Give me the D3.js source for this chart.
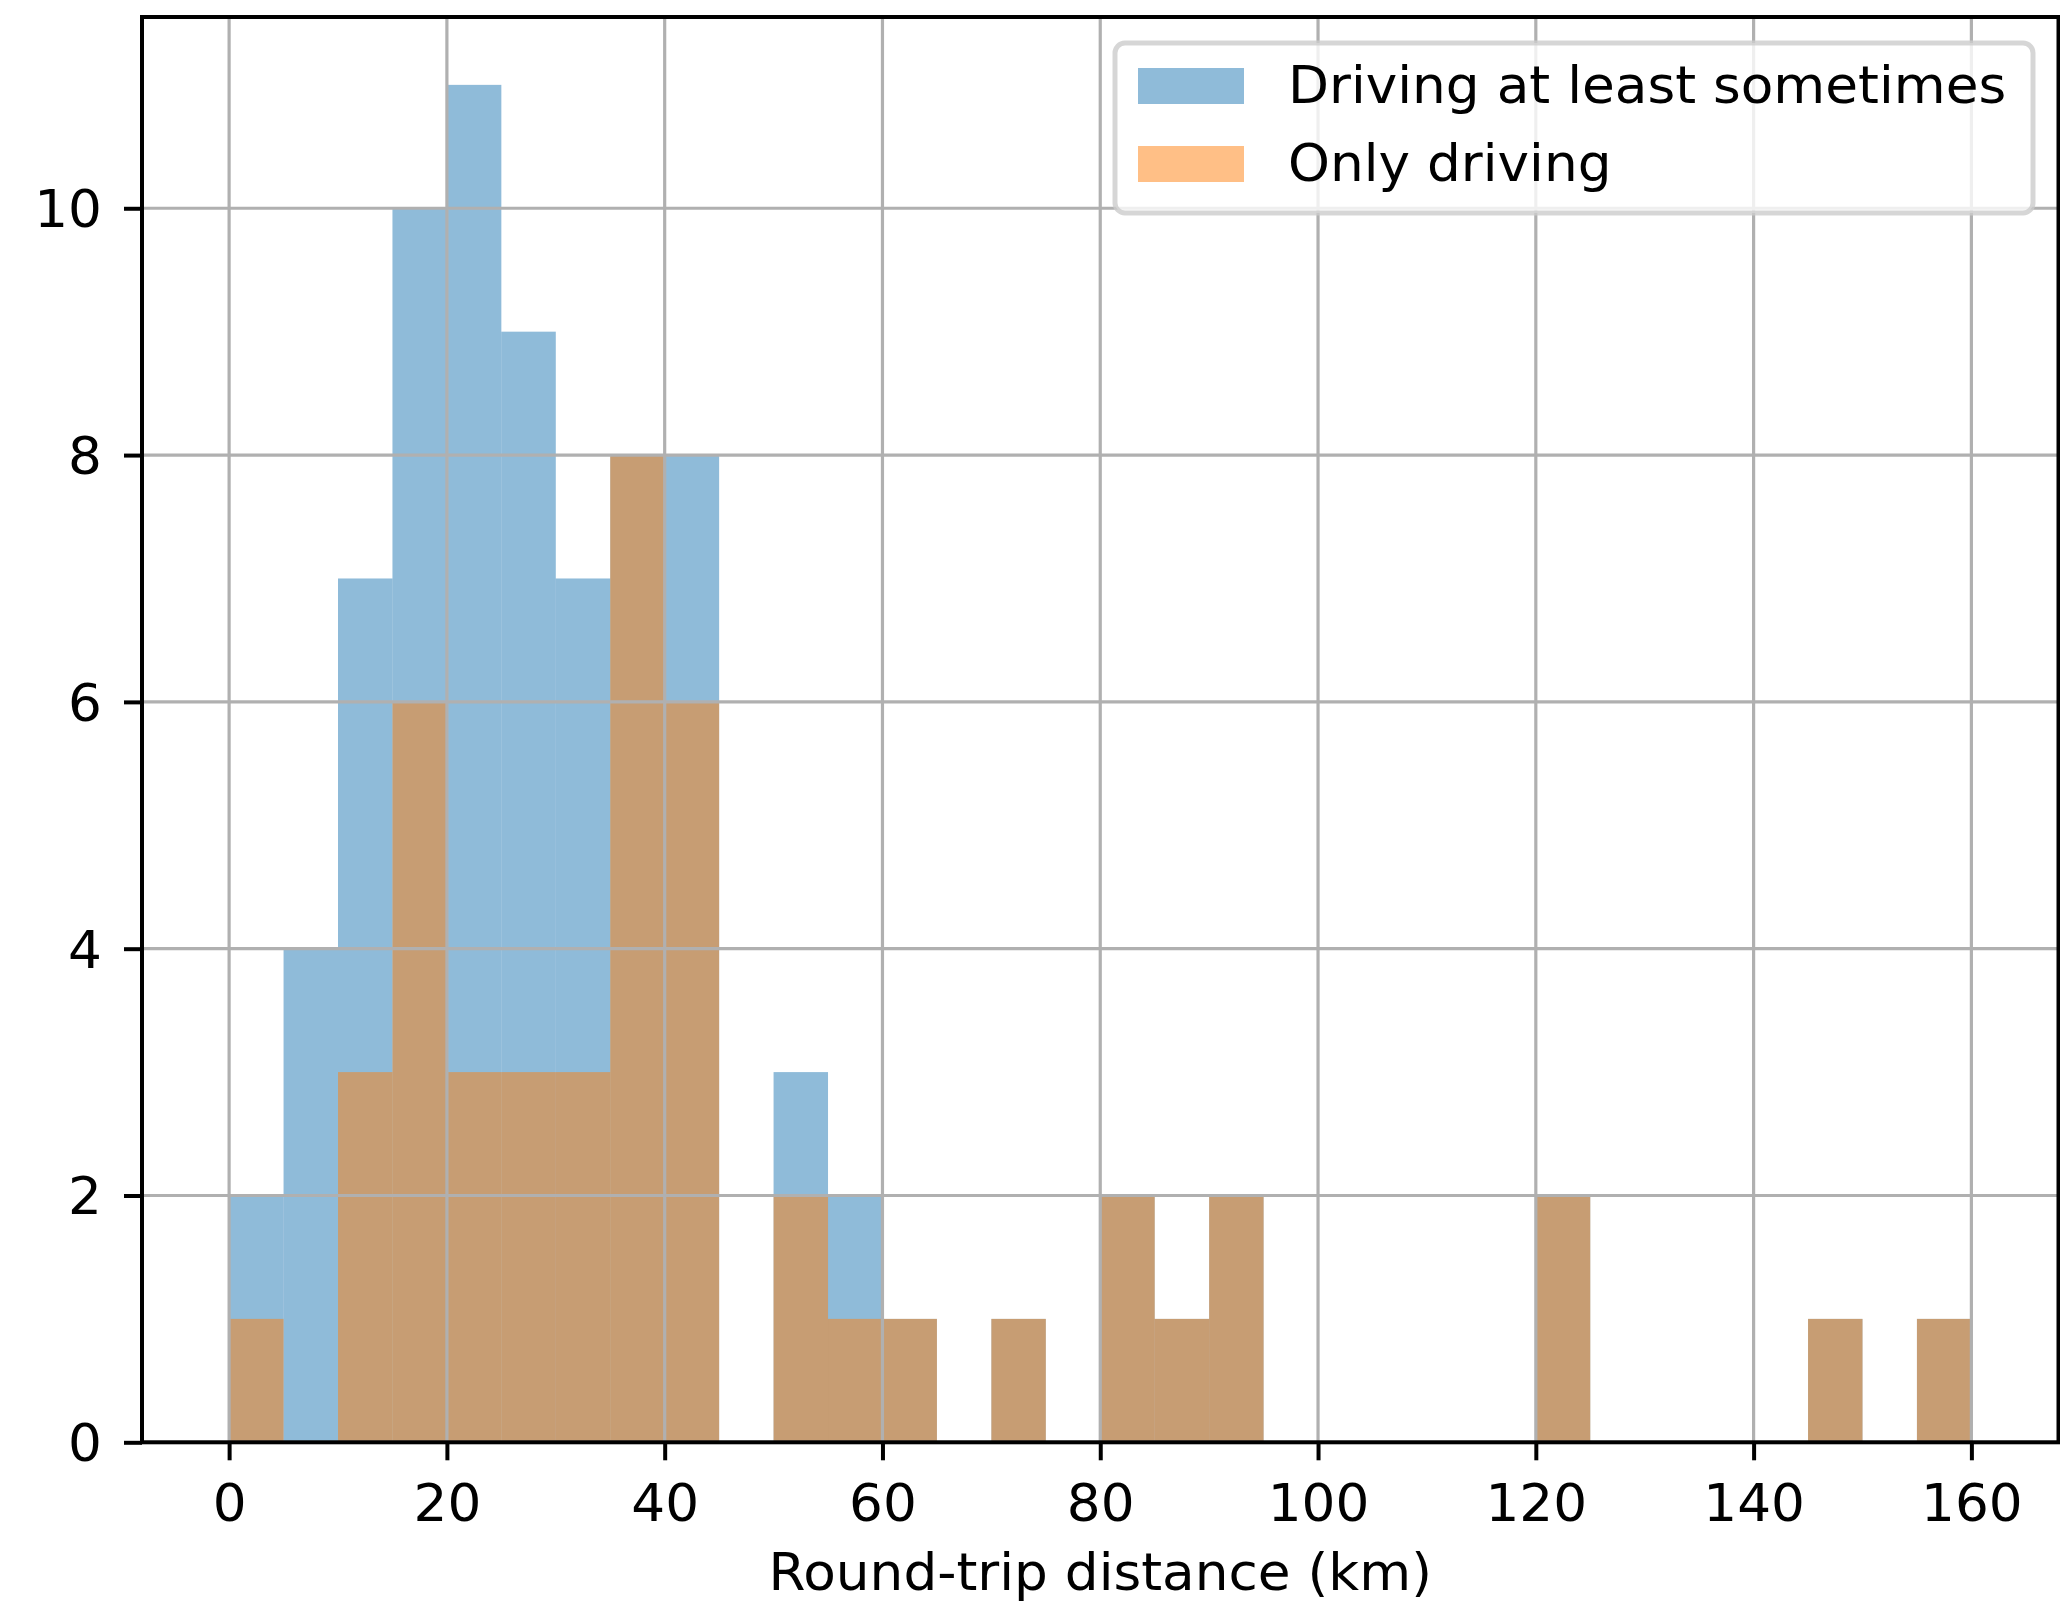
<!DOCTYPE html>
<html>
<head>
<meta charset="utf-8">
<script src="https://cdn.jsdelivr.net/npm/d3@7"></script>
<style>
  html, body { margin: 0; padding: 0; background: #ffffff; }
  svg { display: block; }
  text { font-family: "DejaVu Sans", sans-serif; }
</style>
</head>
<body>
<svg id="chart" width="2060" height="1602"></svg>
<script>
// Histogram bin edges (km), 5 km bins from 0 to 160
const binStarts = [0,5,10,15,20,25,30,35,40,45,50,55,60,65,70,75,80,85,90,95,
                   100,105,110,115,120,125,130,135,140,145,150,155];
const binWidth = 5;

// Counts per bin
const drivingSometimes = [2,4,7,10,11,9,7,8,8,0,3,2,1,0,1,0,2,1,2,0,
                          0,0,0,0,2,0,0,0,0,1,0,1];
const onlyDriving      = [1,0,3,6,3,3,3,8,6,0,2,1,1,0,1,0,2,1,2,0,
                          0,0,0,0,2,0,0,0,0,1,0,1];

const seriesNames = ["Driving at least sometimes", "Only driving"];
const seriesColors = ["#1f77b4", "#ff7f0e"];

const xTicks = [0,20,40,60,80,100,120,140,160];
const yTicks = [0,2,4,6,8,10];
const xLabel = "Round-trip distance (km)";

const svg = d3.select("#chart");
const fontSize = 51;
const stretch = 1.045;   // slightly wide glyphs

const plotLeft = 142, plotRight = 2058.5, plotTop = 17, plotBottom = 1442.3;

const x = d3.scaleLinear().domain([-8, 168]).range([plotLeft, plotRight]);
const y = d3.scaleLinear().domain([0, 11.55]).range([plotBottom, plotTop]);

// Bars: drawn semi-transparent so overlaps blend
const series = [drivingSometimes, onlyDriving];
series.forEach((vals, si) => {
  svg.append("g")
    .selectAll("rect")
    .data(binStarts.map((s, i) => ({ s, v: vals[i] })).filter(d => d.v > 0))
    .join("rect")
    .attr("x", d => x(d.s))
    .attr("width", d => x(d.s + binWidth) - x(d.s))
    .attr("y", d => y(d.v))
    .attr("height", d => y(0) - y(d.v))
    .attr("fill", seriesColors[si])
    .attr("fill-opacity", 0.5);
});

// Grid lines drawn over the bars
const grid = svg.append("g").attr("stroke", "#b0b0b0").attr("stroke-width", 3.2);
grid.selectAll("line.gx").data(xTicks).join("line")
  .attr("class", "gx")
  .attr("x1", d => x(d)).attr("x2", d => x(d))
  .attr("y1", plotTop).attr("y2", plotBottom);
grid.selectAll("line.gy").data(yTicks).join("line")
  .attr("class", "gy")
  .attr("x1", plotLeft).attr("x2", plotRight)
  .attr("y1", d => y(d)).attr("y2", d => y(d));

// Axes
const xAxis = svg.append("g")
  .attr("transform", `translate(0,${plotBottom})`)
  .call(d3.axisBottom(x).tickValues(xTicks).tickSize(18).tickPadding(25).tickSizeOuter(0));
const yAxis = svg.append("g")
  .attr("transform", `translate(${plotLeft},0)`)
  .call(d3.axisLeft(y).tickValues(yTicks).tickSize(18).tickPadding(22).tickSizeOuter(0));

[xAxis, yAxis].forEach(a => {
  a.select(".domain").remove();
  a.selectAll(".tick line").attr("stroke", "#000").attr("stroke-width", 4);
  a.selectAll(".tick text")
    .attr("fill", "#000")
    .style("font-size", fontSize + "px")
    .style("font-family", "'DejaVu Sans', sans-serif");
});
xAxis.selectAll(".tick text").attr("transform", `scale(${stretch},1)`);
yAxis.selectAll(".tick text")
  .attr("dy", "0.36em")
  .attr("x", -40 / stretch)
  .attr("transform", `scale(${stretch},1)`);

// Spines
svg.append("rect")
  .attr("x", plotLeft).attr("y", plotTop)
  .attr("width", plotRight - plotLeft).attr("height", plotBottom - plotTop)
  .attr("fill", "none").attr("stroke", "#000").attr("stroke-width", 4);

// X axis label
svg.append("text")
  .attr("transform", `translate(${(plotLeft + plotRight) / 2},1590) scale(${stretch},1)`)
  .attr("text-anchor", "middle")
  .style("font-size", fontSize + "px")
  .text(xLabel);

// Legend
const legend = svg.append("g");
legend.append("rect")
  .attr("x", 1115).attr("y", 43)
  .attr("width", 918).attr("height", 170)
  .attr("rx", 10).attr("ry", 10)
  .attr("fill", "#fff").attr("fill-opacity", 0.8)
  .attr("stroke", "#cccccc").attr("stroke-opacity", 0.8).attr("stroke-width", 5);

seriesNames.forEach((name, i) => {
  const rowY = 68 + i * 78;
  legend.append("rect")
    .attr("x", 1138).attr("y", rowY)
    .attr("width", 106).attr("height", 36)
    .attr("fill", seriesColors[i]).attr("fill-opacity", 0.5);
  legend.append("text")
    .attr("transform", `translate(1288,${rowY + 35}) scale(${stretch},1)`)
    .style("font-size", fontSize + "px")
    .attr("fill", "#000")
    .text(name);
});
</script>
</body>
</html>
